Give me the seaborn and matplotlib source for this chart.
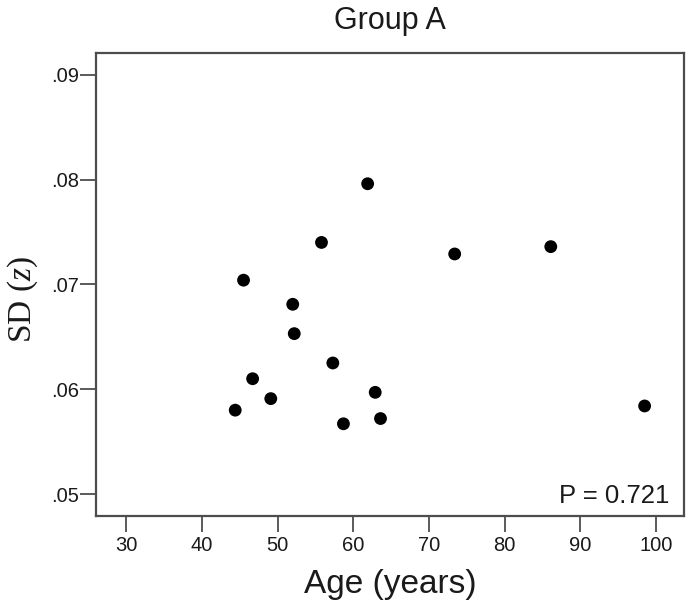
import matplotlib
matplotlib.use('Agg')
import matplotlib.pyplot as plt
import seaborn as sns
import pandas as pd

# datos
age = [44.4, 45.5, 46.7, 49.1, 52.0, 52.2, 55.8, 57.3, 58.7, 61.9, 62.9, 63.6, 73.4, 86.1, 98.5]
sd_z = [0.0580, 0.0704, 0.0610, 0.0591, 0.0681, 0.0653, 0.0740, 0.0625, 0.0567, 0.0796,
        0.0597, 0.0572, 0.0729, 0.0736, 0.0584]
xticks = [30, 40, 50, 60, 70, 80, 90, 100]
yticks = [0.05, 0.06, 0.07, 0.08, 0.09]
yticklabels = ['.05', '.06', '.07', '.08', '.09']
p_text = 'P = 0.721'

df = pd.DataFrame({'age': age, 'sd': sd_z})

sns.set_style('white')
plt.rcParams['font.family'] = ['Liberation Sans', 'DejaVu Sans']
plt.rcParams['mathtext.fontset'] = 'custom'
plt.rcParams['mathtext.rm'] = 'Liberation Serif'
plt.rcParams['mathtext.it'] = 'Liberation Serif:italic'

fig = plt.figure(figsize=(6.89, 6.13), dpi=100)
ax = fig.add_axes([0.1393, 0.1582, 0.8534, 0.7558])

sns.scatterplot(data=df, x='age', y='sd', color='black', s=85, edgecolor='none', ax=ax)

ax.set_xlim(26.0, 103.7)
ax.set_ylim(0.0479, 0.0921)
ax.set_xticks(xticks)
ax.set_xticklabels([str(t) for t in xticks])
ax.set_yticks(yticks)
ax.set_yticklabels(yticklabels)

for sp in ax.spines.values():
    sp.set_color('#4d4d4d')
    sp.set_linewidth(1.6)
ax.tick_params(axis='both', direction='out', length=11.5, width=1.3, color='#4d4d4d',
               labelsize=14.5, labelcolor='#1a1a1a', bottom=True, left=True)
ax.tick_params(axis='y', pad=0.5)
ax.tick_params(axis='x', pad=3)

ax.set_title('Group A', fontsize=22, pad=17, color='#1a1a1a')
ax.set_xlabel('Age (years)', fontsize=24, labelpad=10, color='#1a1a1a')
ax.set_ylabel(r'SD $(\mathit{z})$', fontsize=24, family='Liberation Serif', labelpad=8,
              y=0.466, color='#1a1a1a')

ax.text(0.975, 0.028, p_text, transform=ax.transAxes, ha='right', va='baseline',
        fontsize=18.5, color='#1a1a1a')

fig.savefig('out.png', dpi=100)
